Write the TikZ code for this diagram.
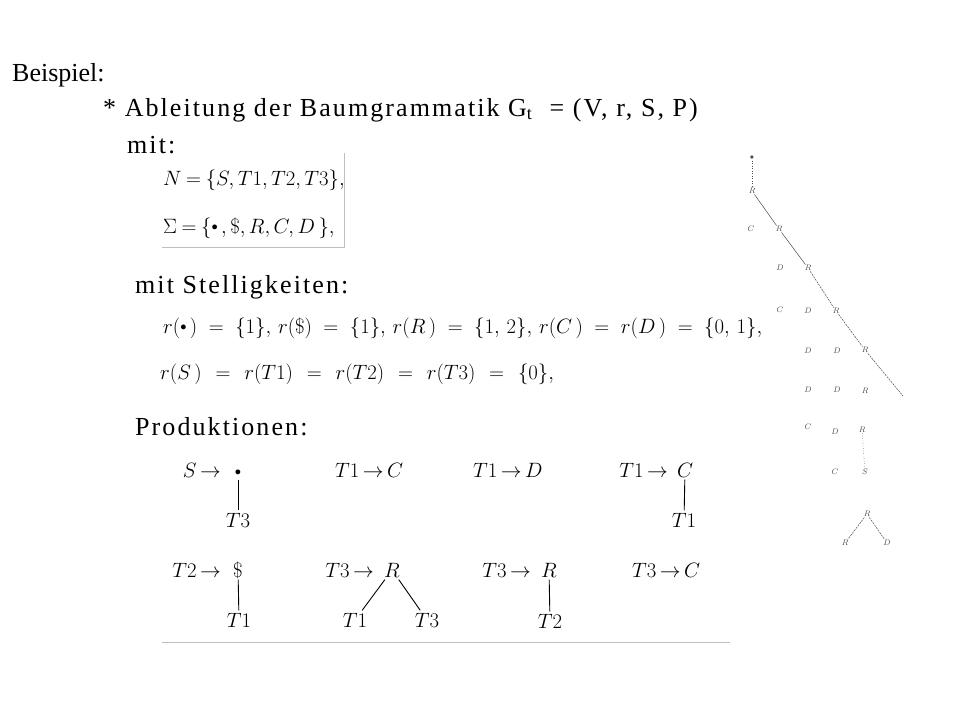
\documentclass[tikz,border=0pt]{standalone}
\usepackage{fontspec}
\usepackage{graphicx}
\setmainfont{Liberation Serif}
\newfontfamily\headfont[LetterSpace=8]{Liberation Serif}
\usetikzlibrary{positioning}

\newcommand{\dotsym}{\mathord{\vcenter{\hbox{\scalebox{0.6}{$\bullet$}}}}}
\newcommand{\prd}[1]{$\thickmuskip=3mu #1$}

\tikzset{
  title/.style={anchor=west, inner sep=0pt, font=\fontsize{26}{30}\selectfont},
  head/.style={anchor=west, inner sep=0pt, font=\fontsize{26}{30}\selectfont\headfont},
  formula/.style={anchor=west, inner sep=0pt, font=\fontsize{22}{26}\selectfont},
  prodf/.style={inner sep=0pt, font=\fontsize{22}{26}\selectfont},
  sym/.style={inner sep=2pt, text height=15pt, text depth=0pt, font=\fontsize{22}{26}\selectfont},
  leaf/.style={inner sep=0.5pt, text=black!70, font=\fontsize{8}{9}\selectfont},
  edge/.style={line width=0.9pt},
  faint/.style={draw=black!25, line width=0.6pt},
  spine/.style={black!70, line width=0.5pt, dash pattern=on 2pt off 1pt}
}

\begin{document}
\begin{tikzpicture}[x=1pt,y=-1pt]
\useasboundingbox[fill=white] (0,0) rectangle (960,720);

% Kopf
\node[title] (bsp) at (12,75) {Beispiel:};
\node[head] (abl) at (103,110) {* Ableitung der Baumgrammatik G\textsubscript{t} \ = (V, r, S, P)};
\node[head] (mit) at (127,145) {mit:};

% Alphabete
\node[formula, font=\fontsize{21}{25}\selectfont] (nset) at (163,180) {$\thickmuskip=4mu N=\{S,T1,T2,T3\},$};
\node[formula, font=\fontsize{21}{25}\selectfont] (sigma) at (163,228) {$\thickmuskip=4mu \Sigma=\{\dotsym\,,\$,R,C,D\,\},$};
\draw[faint] (162,247) -- (344,247) -- (344,153);

% Stelligkeiten
\node[head] (stell) at (135,287) {mit Stelligkeiten:};
\node[formula] (ar1) at (163,328) {$\thickmuskip=10mu r(\dotsym\,)=\{1\},\,r(\$)=\{1\},\,r(R\,)=\{1,\,2\},\,r(C\,)=r(D\,)=\{0,\,1\},$};
\node[formula] (ar2) at (160,374) {$\thickmuskip=12mu r(S\,)=r(T1)=r(T2)=r(T3)=\{0\},$};

% Produktionen
\node[head] (prod) at (135,427) {Produktionen:};

\node[prodf, anchor=east] (p1) at (221,470) {\prd{S\rightarrow}};
\node[sym] (p1r) at (238,470) {$\dotsym$};
\node[sym] (p1a) at (238,520) {$T3$};
\draw[edge] (p1r) -- (p1a);

\node[prodf, anchor=west] (p2) at (335,470) {\prd{T1\rightarrow C}};
\node[prodf, anchor=west] (p3) at (473,470) {\prd{T1\rightarrow D}};

\node[prodf, anchor=east] (p4) at (668,470) {\prd{T1\rightarrow}};
\node[sym] (p4r) at (685,470) {$C$};
\node[sym] (p4a) at (684,520) {$T1$};
\draw[edge] (p4r) -- (p4a);

\node[prodf, anchor=east] (p5) at (221,570) {\prd{T2\rightarrow}};
\node[sym] (p5r) at (238,570) {$\$$};
\node[sym] (p5a) at (239,620) {$T1$};
\draw[edge] (p5r) -- (p5a);

\node[prodf, anchor=east] (p6) at (374,570) {\prd{T3\rightarrow}};
\node[sym] (p6r) at (392,570) {$R$};
\node[sym] (p6a) at (355,620) {$T1$};
\node[sym] (p6b) at (427,620) {$T3$};
\draw[edge] (p6r) -- (p6a);
\draw[edge] (p6r) -- (p6b);

\node[prodf, anchor=east] (p7) at (531,570) {\prd{T3\rightarrow}};
\node[sym] (p7r) at (549,570) {$R$};
\node[sym] (p7a) at (550,621) {$T2$};
\draw[edge] (p7r) -- (p7a);

\node[prodf, anchor=west] (p8) at (632,570) {\prd{T3\rightarrow C}};
\draw[faint] (162,642) -- (730,642);

% Ableitungsbaum rechts
\node[leaf] (w0) at (752,158) {$\bullet$};
\node[leaf] (w1) at (752,191) {$R$};
\node[leaf] (w2a) at (751,229) {$C$};
\node[leaf] (w2) at (779,229) {$R$};
\node[leaf] (w3a) at (780,268) {$D$};
\node[leaf] (w3) at (808,268) {$R$};
\node[leaf] (w4a) at (780,310) {$C$};
\node[leaf] (w4b) at (808,311) {$D$};
\node[leaf] (w4) at (836,311) {$R$};
\node[leaf] (w5a) at (808,351) {$D$};
\node[leaf] (w5b) at (837,351) {$D$};
\node[leaf] (w5) at (865,350) {$R$};
\node[leaf] (w6a) at (808,390) {$D$};
\node[leaf] (w6b) at (837,390) {$D$};
\node[leaf] (w6c) at (865,391) {$R$};
\coordinate (w6) at (903,396);
\node[leaf] (w7a) at (808,427) {$C$};
\node[leaf] (w7b) at (835,432) {$D$};
\node[leaf] (w7c) at (862,430) {$R$};
\node[leaf] (w8a) at (835,472) {$C$};
\node[leaf] (w8b) at (865,472) {$S$};
\node[leaf] (w9) at (867,514) {$R$};
\node[leaf] (w9a) at (845,543) {$R$};
\node[leaf] (w9b) at (887,543) {$D$};

\draw[spine, dotted] (w0) -- (w1);
\draw[spine, solid] (w1) -- (w2);
\draw[spine, solid] (w2) -- (w3);
\draw[spine] (w3) -- (w4);
\draw[spine] (w4) -- (w5);
\draw[spine] (w5) -- (w6);
\draw[spine, dotted] (w7c) -- (w8b);
\draw[spine] (w9) -- (w9a);
\draw[spine] (w9) -- (w9b);
\end{tikzpicture}
\end{document}
